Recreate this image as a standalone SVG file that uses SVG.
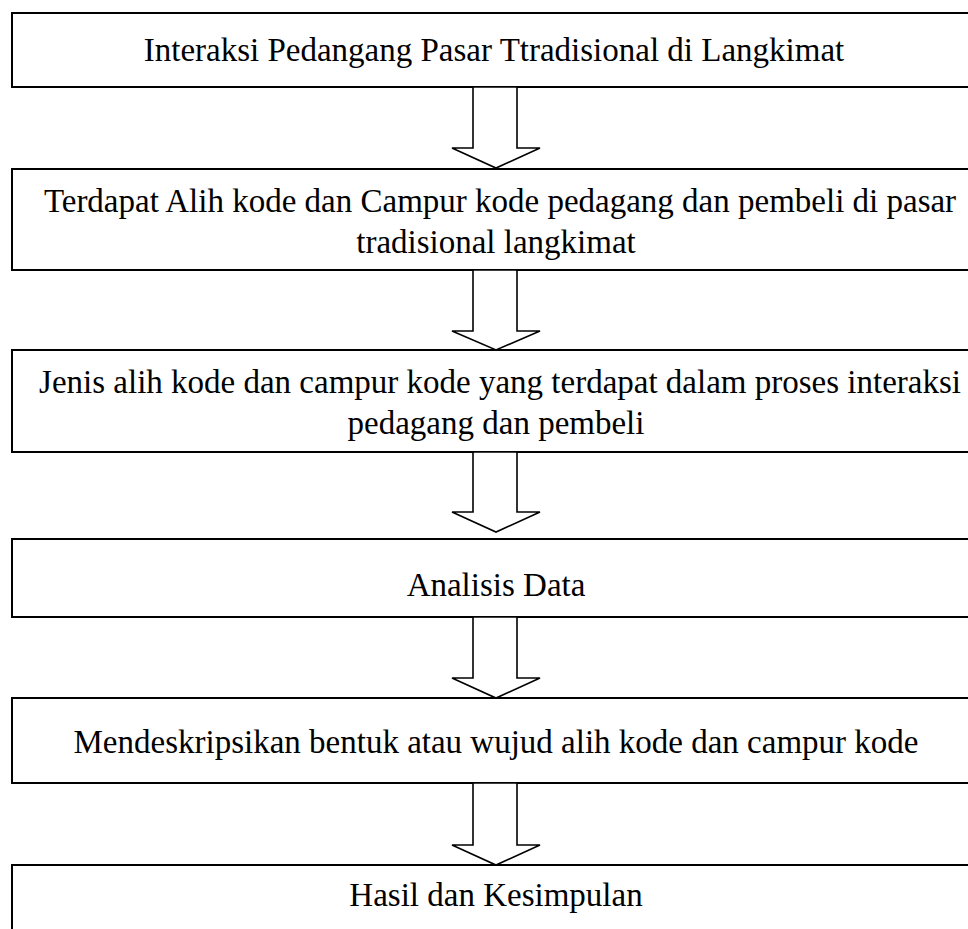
<svg xmlns="http://www.w3.org/2000/svg" width="968" height="929" viewBox="0 0 968 929">
<style>
.box{fill:#fff;stroke:#000;stroke-width:2}
.arr{fill:#fff;stroke:#000;stroke-width:1.6;stroke-linejoin:miter}
text{font-family:"Liberation Serif","Times New Roman",serif;font-size:33px;fill:#000;text-anchor:middle}
</style>
<rect width="968" height="929" fill="#fff"/>
<g id="n1"><rect class="box" x="12" y="13" width="970" height="74"/><text x="494" y="61">Interaksi Pedangang Pasar Ttradisional di Langkimat</text></g>
<g id="n2"><rect class="box" x="12" y="169" width="970" height="101"/><text x="500" y="212">Terdapat Alih kode dan Campur kode pedagang dan pembeli di pasar</text><text x="496" y="253">tradisional langkimat</text></g>
<g id="n3"><rect class="box" x="12" y="350" width="970" height="102"/><text x="500" y="393">Jenis alih kode dan campur kode yang terdapat dalam proses interaksi</text><text x="496" y="434">pedagang dan pembeli</text></g>
<g id="n4"><rect class="box" x="12" y="539" width="970" height="78"/><text x="496" y="596">Analisis Data</text></g>
<g id="n5"><rect class="box" x="12" y="698" width="970" height="85"/><text x="496" y="753">Mendeskripsikan bentuk atau wujud alih kode dan campur kode</text></g>
<g id="n6"><rect class="box" x="12" y="865" width="970" height="80"/><text x="496" y="906">Hasil dan Kesimpulan</text></g>
<g id="connectors">
<path class="arr" d="M473,87 V148 H452 L496,168 L540,148 H517 V87 Z"/>
<path class="arr" d="M473,270 V331 H452 L496,350 L540,331 H517 V270 Z"/>
<path class="arr" d="M473,452 V512 H452 L496,532 L540,512 H517 V452 Z"/>
<path class="arr" d="M473,617 V678 H452 L496,698 L540,678 H517 V617 Z"/>
<path class="arr" d="M473,783 V845 H452 L496,865 L540,845 H517 V783 Z"/>
</g>
</svg>
